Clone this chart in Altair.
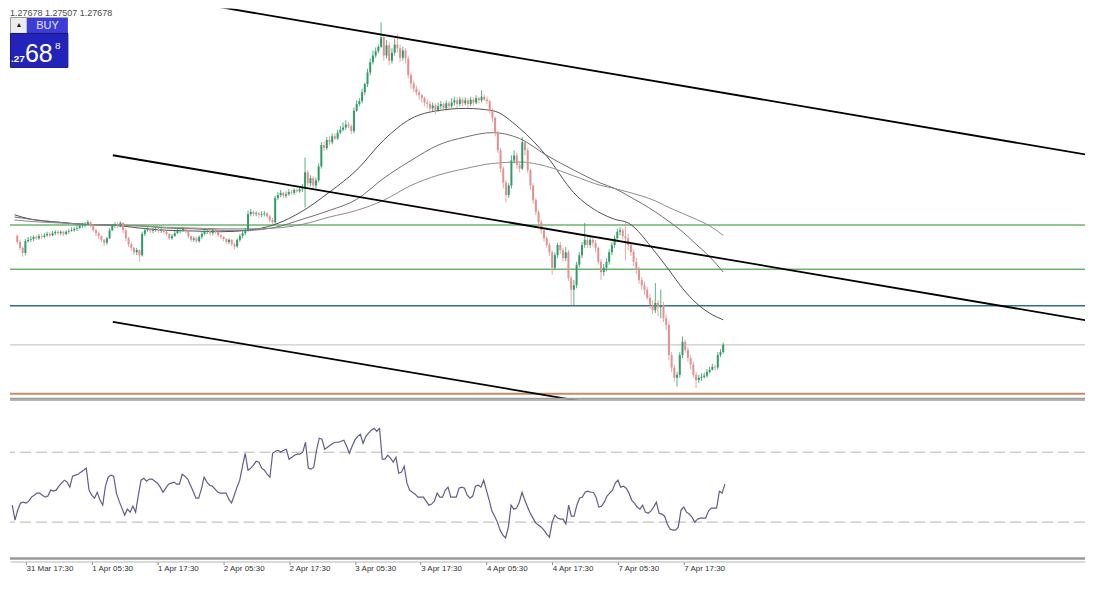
import altair as alt
import pandas as pd

# ---------------- data: GBPUSD, 30-minute bars ----------------
# prices are stored as pips above BASE_PRICE
BASE_PRICE = 1.27000
PIP = 0.0001

FIRST_BAR = -5            # bar 0 = 31 Mar 17:30, one bar = 30 minutes
FIRST_OPEN = 216

CLOSE = [
    208, 200, 193, 209, 211,
    212, 215, 213, 216, 215, 217, 219, 217, 220, 222,
    220, 222, 219, 222, 223, 224, 226, 227, 230, 231,
    232, 235, 231, 224, 220, 216, 211, 207, 213, 224,
    230, 232, 231, 234, 224, 213, 205, 200, 194, 197,
    190, 219, 224, 226, 223, 224, 226, 223, 224, 222,
    219, 213, 216, 220, 223, 224, 226, 223, 216, 211,
    213, 209, 215, 219, 222, 223, 220, 224, 222, 217,
    215, 212, 208, 211, 205, 202, 211, 216, 220, 224,
    246, 249, 246, 247, 245, 246, 247, 243, 238, 235,
    268, 272, 275, 271, 273, 276, 275, 279, 277, 280,
    281, 303, 288, 295, 285, 292, 311, 340, 336, 347,
    344, 352, 349, 357, 361, 364, 368, 366, 359, 387,
    396, 400, 412, 423, 439, 453, 462, 468, 474, 487,
    462, 476, 455, 466, 477, 472, 459, 469, 458, 435,
    424, 417, 412, 408, 404, 398, 396, 390, 394, 387,
    393, 396, 390, 397, 393, 398, 401, 396, 402, 397,
    401, 396, 402, 398, 404, 401, 406, 402, 400, 387,
    377, 357, 333, 308, 289, 272, 285, 319, 326, 313,
    308, 344, 333, 306, 285, 265, 249, 235, 224, 213,
    204, 194, 173, 190, 204, 197, 186, 194, 159, 143,
    149, 177, 190, 204, 211, 204, 211, 207, 200, 181,
    167, 173, 181, 194, 204, 213, 222, 224, 216, 213,
    204, 194, 181, 170, 156, 149, 143, 132, 122, 115,
    125, 119, 122, 104, 95, 54, 37, 23, 27, 54,
    72, 61, 50, 41, 27, 20, 23, 24, 26, 31,
    34, 38, 37, 54, 58, 68,
]

HIGH = [
    219, 211, 202, 212, 215,
    216, 217, 217, 219, 219, 220, 222, 222, 223, 224,
    224, 224, 223, 224, 226, 228, 228, 230, 232, 234,
    235, 238, 236, 232, 226, 222, 217, 212, 215, 227,
    232, 235, 235, 236, 235, 226, 215, 208, 201, 200,
    198, 222, 227, 228, 227, 227, 228, 227, 227, 226,
    223, 220, 219, 223, 226, 227, 228, 227, 224, 217,
    216, 215, 217, 222, 224, 226, 224, 227, 226, 223,
    219, 216, 213, 213, 212, 207, 213, 219, 223, 227,
    251, 253, 251, 250, 249, 250, 250, 249, 245, 241,
    271, 276, 279, 276, 277, 280, 279, 281, 281, 284,
    287, 323, 306, 299, 298, 296, 315, 344, 345, 351,
    352, 356, 356, 361, 366, 371, 374, 372, 368, 391,
    401, 404, 417, 425, 444, 458, 469, 473, 477, 507,
    489, 483, 480, 472, 485, 492, 477, 474, 472, 462,
    439, 428, 421, 416, 410, 406, 402, 400, 398, 397,
    398, 400, 398, 401, 400, 404, 406, 405, 406, 405,
    405, 404, 406, 405, 408, 406, 415, 409, 406, 402,
    390, 379, 360, 336, 311, 292, 288, 326, 333, 330,
    317, 351, 347, 336, 308, 288, 268, 251, 238, 227,
    216, 207, 197, 194, 207, 208, 200, 201, 197, 162,
    156, 181, 194, 208, 234, 215, 216, 215, 211, 202,
    185, 178, 186, 198, 208, 217, 226, 228, 227, 235,
    219, 208, 198, 186, 174, 160, 154, 147, 137, 129,
    152, 129, 143, 126, 109, 99, 58, 41, 31, 58,
    79, 75, 65, 54, 45, 31, 27, 29, 30, 35,
    38, 42, 41, 58, 62, 71,
]

LOW = [
    205, 197, 188, 190, 207,
    208, 209, 211, 211, 212, 213, 215, 215, 216, 217,
    217, 217, 216, 217, 219, 222, 222, 223, 226, 227,
    228, 231, 228, 222, 216, 212, 208, 202, 204, 212,
    223, 227, 227, 228, 220, 209, 201, 196, 190, 190,
    181, 188, 216, 222, 220, 220, 222, 220, 220, 219,
    216, 211, 211, 215, 219, 220, 222, 220, 213, 208,
    208, 207, 207, 212, 217, 219, 217, 217, 219, 215,
    212, 209, 205, 205, 202, 198, 200, 208, 213, 217,
    222, 243, 243, 243, 241, 242, 243, 241, 235, 232,
    232, 265, 269, 268, 268, 271, 272, 272, 275, 275,
    276, 255, 284, 284, 281, 281, 289, 308, 332, 333,
    340, 341, 347, 347, 355, 359, 361, 363, 355, 356,
    385, 393, 397, 408, 419, 435, 450, 459, 465, 472,
    455, 458, 449, 451, 462, 466, 453, 455, 451, 431,
    417, 412, 408, 402, 398, 393, 390, 383, 386, 382,
    385, 389, 386, 387, 389, 390, 394, 391, 393, 393,
    394, 391, 393, 394, 396, 397, 398, 400, 396, 383,
    371, 352, 329, 303, 281, 262, 268, 281, 315, 308,
    303, 306, 326, 302, 279, 260, 245, 230, 219, 208,
    200, 189, 163, 170, 186, 192, 181, 182, 155, 122,
    121, 145, 173, 186, 200, 200, 200, 202, 194, 177,
    156, 162, 168, 177, 190, 200, 211, 217, 211, 183,
    197, 189, 175, 164, 151, 143, 136, 129, 117, 110,
    111, 107, 104, 99, 88, 47, 31, 18, 11, 23,
    50, 57, 45, 34, 23, 9, 16, 19, 22, 23,
    29, 33, 33, 34, 51, 56,
]

RSI = [
    39.7, 31.1, 36.9, 40.9, 41.4,
    40.9, 42.0, 44.3, 45.4, 46.6, 46.6, 45.4, 44.3, 44.9, 48.3,
    47.7, 48.3, 50.6, 52.3, 54.0, 52.9, 50.0, 56.3, 56.9, 57.4,
    58.6, 59.7, 60.9, 48.3, 45.4, 43.7, 47.1, 42.6, 39.7, 50.6,
    55.7, 56.9, 56.3, 46.6, 42.0, 38.0, 34.0, 37.4, 35.7, 39.1,
    35.7, 45.4, 54.0, 55.1, 53.4, 54.6, 54.6, 53.4, 52.3, 50.0,
    47.1, 49.4, 51.7, 52.3, 52.9, 51.7, 51.7, 57.4, 56.3, 54.6,
    51.1, 47.7, 43.7, 43.7, 48.9, 55.7, 52.9, 51.1, 50.6, 48.9,
    47.1, 46.6, 46.6, 46.6, 43.1, 40.9, 45.4, 50.0, 54.0, 62.0,
    69.4, 59.7, 60.9, 62.6, 64.9, 64.3, 60.9, 59.7, 57.4, 55.7,
    69.4, 70.6, 71.1, 70.0, 71.1, 71.7, 66.0, 67.1, 68.3, 68.9,
    68.9, 70.0, 75.7, 60.9, 60.3, 61.4, 71.1, 78.0, 77.4, 71.7,
    72.9, 74.0, 75.1, 75.7, 75.7, 76.3, 76.9, 73.4, 69.4, 73.4,
    76.9, 79.1, 80.3, 75.1, 79.1, 80.9, 82.6, 83.7, 82.0, 83.7,
    66.0, 66.0, 68.3, 66.6, 64.3, 67.1, 58.0, 58.6, 62.0, 52.3,
    48.3, 47.1, 46.0, 44.3, 44.3, 44.3, 42.0, 39.7, 40.3, 42.0,
    46.6, 44.3, 44.3, 48.3, 50.0, 44.3, 44.3, 44.3, 49.4, 50.0,
    49.4, 45.4, 43.7, 44.9, 50.6, 51.1, 50.0, 54.0, 48.3, 42.6,
    36.3, 33.4, 30.0, 25.4, 22.6, 20.9, 27.1, 39.7, 37.4, 38.0,
    41.4, 47.1, 42.6, 38.6, 35.1, 32.3, 29.4, 28.3, 27.1, 25.4,
    23.1, 21.4, 30.0, 34.0, 32.3, 31.7, 31.7, 28.9, 39.7, 33.4,
    33.4, 39.7, 43.7, 44.3, 47.1, 47.7, 47.1, 47.1, 44.3, 38.6,
    39.1, 41.4, 44.9, 46.6, 48.3, 52.3, 54.0, 50.0, 50.6, 49.4,
    46.6, 42.6, 40.9, 38.6, 37.4, 39.7, 35.7, 35.1, 36.3, 38.6,
    41.4, 35.1, 34.6, 33.4, 28.9, 26.0, 25.4, 25.4, 27.1, 36.9,
    38.6, 35.7, 34.6, 32.9, 30.0, 31.7, 32.3, 32.3, 32.3, 36.3,
    38.0, 38.0, 38.0, 47.7, 46.6, 51.7,
]

# moving averages (pips), read at these bars
MA_BARS = [-6, 0, 10, 20, 30, 40, 50, 60, 70, 80, 90, 100, 110, 120, 130, 140,
           150, 160, 170, 180, 190, 200, 210, 215, 220, 230, 235, 240, 245, 250, 255]
MA_FAST = [245, 239, 235, 232, 231, 227, 224, 223, 222, 224, 232, 250, 276, 306, 347, 376,
           387, 390, 387, 363, 325, 275, 247, 239, 234, 194, 170, 145, 125, 111, 102]
MA_MID = [242, 239, 235, 232, 231, 230, 227, 226, 224, 224, 228, 239, 251, 266, 295, 319,
          340, 351, 357, 349, 326, 306, 288, 281, 271, 249, 236, 222, 205, 188, 167]
MA_SLOW = [238, 236, 234, 232, 231, 230, 228, 227, 226, 226, 227, 232, 242, 251, 265, 285,
           299, 308, 315, 317, 311, 298, 285, 281, 276, 264, 255, 247, 239, 230, 217]

# channel lines (bar, pips) end points
TREND_NAME = ["upper", "upper", "middle", "middle", "lower", "lower"]
TREND_BAR = [59.7, 390.1, 30.2, 390.1, 30.2, 220.0]
TREND_PIPS = [534.3, 326.2, 326.2, 100.4, 99.1, -19.8]

# horizontal levels (pips)
LEVEL_PIPS = [231, 171, 121, 67.8, 1.2]
LEVEL_KIND = ["zone", "zone", "support", "bid", "low"]

RSI_LEVELS = [70, 30]

TICK_BARS = [0, 24, 48, 72, 96, 120, 144, 168, 192, 216, 240]
TICK_LABELS = ["31 Mar 17:30", "1 Apr 05:30", "1 Apr 17:30", "2 Apr 05:30", "2 Apr 17:30",
               "3 Apr 05:30", "3 Apr 17:30", "4 Apr 05:30", "4 Apr 17:30", "7 Apr 05:30",
               "7 Apr 17:30"]

HEADER = "1.27678 1.27507 1.27678"
ASK_BIG = "68"
ASK_SMALL = ".27"
ASK_PIPETTE = "8"

# ---------------- styling / layout ----------------
W = 1077
H_MAIN = 392
H_RSI = 160
PX_PER_BAR = 2.7458
X_MIN = -5.83
X_MAX = X_MIN + W / PX_PER_BAR
Y_MIN_PIPS, Y_MAX_PIPS = -7.0, 526.1
RSI_MIN, RSI_MAX = 8.6, 100
BULL = "#2f9d6a"
BEAR = "#e39090"
KIND_COLOR = {"zone": "#6cb46c", "support": "#2e6f8e", "bid": "#bdbdbd", "low": "#c98a64"}
KIND_WIDTH = {"zone": 1.5, "support": 1.5, "bid": 1.0, "low": 2.0}
FONT = "Liberation Sans"


def price(p):
    return BASE_PRICE + p * PIP


n = min(len(CLOSE), len(HIGH), len(LOW))
bars = list(range(FIRST_BAR, FIRST_BAR + n))
opens = [FIRST_OPEN] + CLOSE[: n - 1]
candles = pd.DataFrame({
    "bar": bars,
    "open": [price(v) for v in opens],
    "close": [price(v) for v in CLOSE[:n]],
    "high": [price(v) for v in HIGH[:n]],
    "low": [price(v) for v in LOW[:n]],
})
candles["col"] = [BULL if c >= o else BEAR for o, c in zip(candles["open"], candles["close"])]

ma_rows = []
for name, vals, col in [("fast", MA_FAST, "#4f4f4f"), ("mid", MA_MID, "#6e6e6e"), ("slow", MA_SLOW, "#8c8c8c")]:
    for b, v in zip(MA_BARS, vals):
        ma_rows.append({"bar": b, "price": price(v), "name": name, "col": col})
ma_df = pd.DataFrame(ma_rows)

trend_df = pd.DataFrame({"bar": TREND_BAR, "price": [price(v) for v in TREND_PIPS], "line": TREND_NAME})

level_df = pd.DataFrame({
    "price": [price(v) for v in LEVEL_PIPS],
    "col": [KIND_COLOR[k] for k in LEVEL_KIND],
    "w": [KIND_WIDTH[k] for k in LEVEL_KIND],
})

rsi_n = min(len(RSI), n)
rsi_df = pd.DataFrame({"bar": bars[:rsi_n], "rsi": RSI[:rsi_n]})
rsi_lv_df = pd.DataFrame({"lvl": RSI_LEVELS})
one = pd.DataFrame({"k": [0]})

xs = alt.Scale(domain=[X_MIN, X_MAX], nice=False, zero=False)
ys = alt.Scale(domain=[price(Y_MIN_PIPS), price(Y_MAX_PIPS)], nice=False, zero=False)
rs = alt.Scale(domain=[RSI_MIN, RSI_MAX], nice=False, zero=False)
X = alt.X("bar:Q", scale=xs, axis=None)

levels = alt.Chart(level_df).mark_rule().encode(
    y=alt.Y("price:Q", scale=ys, axis=None),
    color=alt.Color("col:N", scale=None),
    strokeWidth=alt.StrokeWidth("w:Q", scale=None),
)
ma_lines = alt.Chart(ma_df).mark_line(strokeWidth=1, interpolate="monotone", clip=True).encode(
    x=X, y=alt.Y("price:Q", scale=ys, axis=None),
    detail="name:N", color=alt.Color("col:N", scale=None),
)
wicks = alt.Chart(candles).mark_rule(strokeWidth=1, opacity=0.8).encode(
    x=X, y=alt.Y("low:Q", scale=ys, axis=None), y2="high:Q",
    color=alt.Color("col:N", scale=None),
)
bodies = alt.Chart(candles).mark_bar(size=2).encode(
    x=X, y=alt.Y("open:Q", scale=ys, axis=None), y2="close:Q",
    color=alt.Color("col:N", scale=None),
)
trend = alt.Chart(trend_df).mark_line(color="#000000", strokeWidth=1.8, clip=True).encode(
    x=X, y=alt.Y("price:Q", scale=ys, axis=None), detail="line:N",
)
main_bottom = alt.Chart(one).mark_rule(color="#9c9c9c", strokeWidth=2).encode(
    x=alt.value(0), x2=alt.value(W), y=alt.value(H_MAIN - 1)
)

# trading widget (one-click panel) and header
header = alt.Chart(one).mark_text(align="left", baseline="middle", fontSize=9, font=FONT,
                                  color="#4a4a4a", text=HEADER).encode(
    x=alt.value(0), y=alt.value(4))
btn = alt.Chart(one).mark_rect(fill="#ececec", stroke="#9a9a9a", strokeWidth=1).encode(
    x=alt.value(0.5), x2=alt.value(17), y=alt.value(9), y2=alt.value(25))
btn_txt = alt.Chart(one).mark_text(text="▲", fontSize=7, color="#222222", font=FONT).encode(
    x=alt.value(9), y=alt.value(17))
buy = alt.Chart(one).mark_rect(fill="#3c3cd6").encode(
    x=alt.value(17), x2=alt.value(58), y=alt.value(9), y2=alt.value(25))
buy_txt = alt.Chart(one).mark_text(text="BUY", fontSize=11, color="#e4e4ff", font=FONT).encode(
    x=alt.value(37.5), y=alt.value(17.5))
ask_box = alt.Chart(one).mark_rect(fill="#2323bb", stroke="#18187a", strokeWidth=1).encode(
    x=alt.value(0.5), x2=alt.value(58), y=alt.value(25), y2=alt.value(59))
ask_small = alt.Chart(one).mark_text(text=ASK_SMALL, align="left", baseline="alphabetic",
                                     fontSize=10, fontWeight="bold", color="#ffffff",
                                     font=FONT).encode(x=alt.value(1), y=alt.value(54))
ask_big = alt.Chart(one).mark_text(text=ASK_BIG, align="left", baseline="alphabetic",
                                   fontSize=25, color="#ffffff", font=FONT).encode(
    x=alt.value(15), y=alt.value(54))
ask_pip = alt.Chart(one).mark_text(text=ASK_PIPETTE, align="left", baseline="top",
                                   fontSize=10, color="#ffffff", font=FONT).encode(
    x=alt.value(45), y=alt.value(33))

main = alt.layer(
    levels, ma_lines, wicks, bodies, trend, main_bottom,
    header, btn, btn_txt, buy, buy_txt, ask_box, ask_small, ask_big, ask_pip,
).properties(width=W, height=H_MAIN)

label_expr = "[" + ",".join("'" + s + "'" for s in TICK_LABELS) + "][round(datum.value/" + \
    str(TICK_BARS[1] - TICK_BARS[0]) + ")]"

rsi_line = alt.Chart(rsi_df).mark_line(color="#5e5e86", strokeWidth=1.2).encode(
    x=alt.X("bar:Q", scale=xs, axis=alt.Axis(
        values=TICK_BARS, labelExpr=label_expr, title=None, grid=False,
        labelAlign="left", labelPadding=0, labelFont=FONT, labelFontSize=8,
        labelColor="#333333", labelFlush=False, labelOverlap=False, labelBound=False,
        tickSize=3, tickColor="#8a8a8a", domainColor="#b4b4b4", domainWidth=1, offset=2)),
    y=alt.Y("rsi:Q", scale=rs, axis=None),
)
rsi_levels = alt.Chart(rsi_lv_df).mark_rule(color="#b4b4b4", strokeWidth=1, strokeDash=[11, 5]).encode(
    y=alt.Y("lvl:Q", scale=rs, axis=None)
)
rsi_top = alt.Chart(one).mark_rule(color="#a0a0a0", strokeWidth=1).encode(
    x=alt.value(0), x2=alt.value(W), y=alt.value(0.5))
rsi_bottom = alt.Chart(one).mark_rule(color="#9a9a9a", strokeWidth=2.5).encode(
    x=alt.value(0), x2=alt.value(W), y=alt.value(H_RSI - 1))

rsi_panel = alt.layer(rsi_levels, rsi_top, rsi_bottom, rsi_line).properties(width=W, height=H_RSI)

chart = alt.vconcat(main, rsi_panel, spacing=0).properties(
    padding=0, background="#ffffff"
).configure_view(stroke=None)

chart.save("out.html", embed_options={"renderer": "svg", "actions": False})
